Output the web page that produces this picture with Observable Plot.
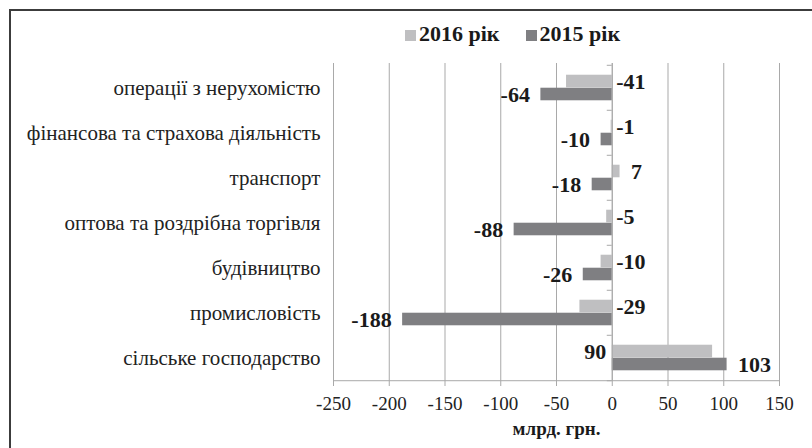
<!DOCTYPE html>
<html>
<head>
<meta charset="utf-8">
<script src="https://cdn.jsdelivr.net/npm/d3@7"></script>
<script src="https://cdn.jsdelivr.net/npm/@observablehq/plot@0.6"></script>
<style>
  html, body { margin: 0; padding: 0; background: #fff; overflow: hidden; width: 812px; height: 448px; }
  #frame { position: absolute; left: 9px; top: 9px; width: 900px; height: 500px; border-top: 2px solid #3c3c3c; border-left: 2px solid #3c3c3c; }
  #chart { position: absolute; left: 0; top: 0; }
  #chart svg text { font-family: "Liberation Serif", "Times New Roman", serif; }
  #legend { position: absolute; top: 21px; left: 405px; display: flex; align-items: center; font-family: "Liberation Serif", "Times New Roman", serif; font-weight: bold; font-size: 22px; color: #1a1a1a; }
  .item { display: flex; align-items: center; margin-right: 26px; }
  .sw { width: 11px; height: 11px; margin-right: 3px; margin-top: 3px; }
</style>
</head>
<body>
<div id="frame"></div>
<div id="chart"></div>
<div id="legend"></div>
<script>
const categories = [
  "операції з нерухомістю",
  "фінансова та страхова діяльність",
  "транспорт",
  "оптова та роздрібна торгівля",
  "будівництво",
  "промисловість",
  "сільське господарство"
];
const values2016 = [-41, -1, 7, -5, -10, -29, 90];
const values2015 = [-64, -10, -18, -88, -26, -188, 103];
const seriesNames = ["2016 рік", "2015 рік"];
const seriesColors = ["#bfbfc1", "#7f7f82"];
const xTicks = [-250, -200, -150, -100, -50, 0, 50, 100, 150];
const xLabel = "млрд. грн.";

const rows2016 = categories.map((c, i) => ({category: c, value: values2016[i], other: values2015[i]}));
const rows2015 = categories.map((c, i) => ({category: c, value: values2015[i]}));

const W = 812, H = 448, mT = 63, mB = 67, mL = 333, mR = 33;
const band = (H - mT - mB) / categories.length;
const barH = 13;
const gridColor = "#a9a9a9";
const fmt = d => String(d);
const serif = "Liberation Serif";
const labelSize = 22;

const chart = Plot.plot({
  width: W, height: H,
  marginTop: mT, marginBottom: mB, marginLeft: mL, marginRight: mR,
  style: {fontFamily: serif, background: "transparent", color: "#1a1a1a"},
  x: {domain: [xTicks[0], xTicks[xTicks.length - 1]]},
  y: {domain: categories, padding: 0},
  marks: [
    Plot.gridX(xTicks, {stroke: gridColor, strokeOpacity: 1}),
    Plot.barX(rows2016, {x: "value", y: "category", fill: seriesColors[0],
      insetTop: band / 2 - barH, insetBottom: band / 2}),
    Plot.barX(rows2015, {x: "value", y: "category", fill: seriesColors[1],
      insetTop: band / 2, insetBottom: band / 2 - barH}),
    Plot.ruleX([0], {stroke: gridColor}),
    Plot.ruleY(categories, {y: d => d, x1: 0, x2: 0, insetLeft: -5, dy: -band / 2, stroke: gridColor}),
    Plot.ruleY([categories[categories.length - 1]], {y: d => d, x1: 0, x2: 0, insetLeft: -5, dy: band / 2, stroke: gridColor}),
    Plot.ruleY([categories[categories.length - 1]], {y: d => d, dy: band / 2, stroke: gridColor}),
    Plot.axisX(xTicks, {tickSize: 5, tickPadding: 10, fontSize: 19, stroke: gridColor, tickFormat: fmt, label: null, fill: "#222"}),
    Plot.axisY({tickSize: 0, tickPadding: 13, fontSize: 21, label: null, fill: "#222"}),
    Plot.text(rows2015, {filter: d => d.value < 0, x: "value", y: "category", text: d => fmt(d.value),
      textAnchor: "end", dx: -11, dy: barH / 2, fontSize: labelSize, fontWeight: "bold", fill: "#1a1a1a"}),
    Plot.text(rows2015, {filter: d => d.value >= 0, x: "value", y: "category", text: d => fmt(d.value),
      textAnchor: "start", dx: 11, dy: barH / 2, fontSize: labelSize, fontWeight: "bold", fill: "#1a1a1a"}),
    Plot.text(rows2016, {filter: d => d.other < 0 && d.value <= 0, x: d => 0, y: "category", text: d => fmt(d.value),
      textAnchor: "start", dx: 4, dy: -barH / 2, fontSize: labelSize, fontWeight: "bold", fill: "#1a1a1a"}),
    Plot.text(rows2016, {filter: d => d.other < 0 && d.value > 0, x: "value", y: "category", text: d => fmt(d.value),
      textAnchor: "start", dx: 11, dy: -barH / 2, fontSize: labelSize, fontWeight: "bold", fill: "#1a1a1a"}),
    Plot.text(rows2016, {filter: d => d.other >= 0, x: d => 0, y: "category", text: d => fmt(d.value),
      textAnchor: "end", dx: -6, dy: -barH / 2, fontSize: labelSize, fontWeight: "bold", fill: "#1a1a1a"}),
    Plot.text([xLabel], {frameAnchor: "bottom", text: d => d, dy: 53, fontSize: 19, fontWeight: "bold", fill: "#1a1a1a"})
  ]
});
document.getElementById("chart").appendChild(chart);

const legend = document.getElementById("legend");
seriesNames.forEach((name, i) => {
  const item = document.createElement("div");
  item.className = "item";
  const sw = document.createElement("span");
  sw.className = "sw";
  sw.style.background = seriesColors[i];
  const t = document.createElement("span");
  t.textContent = name;
  item.appendChild(sw);
  item.appendChild(t);
  legend.appendChild(item);
});
</script>
</body>
</html>
